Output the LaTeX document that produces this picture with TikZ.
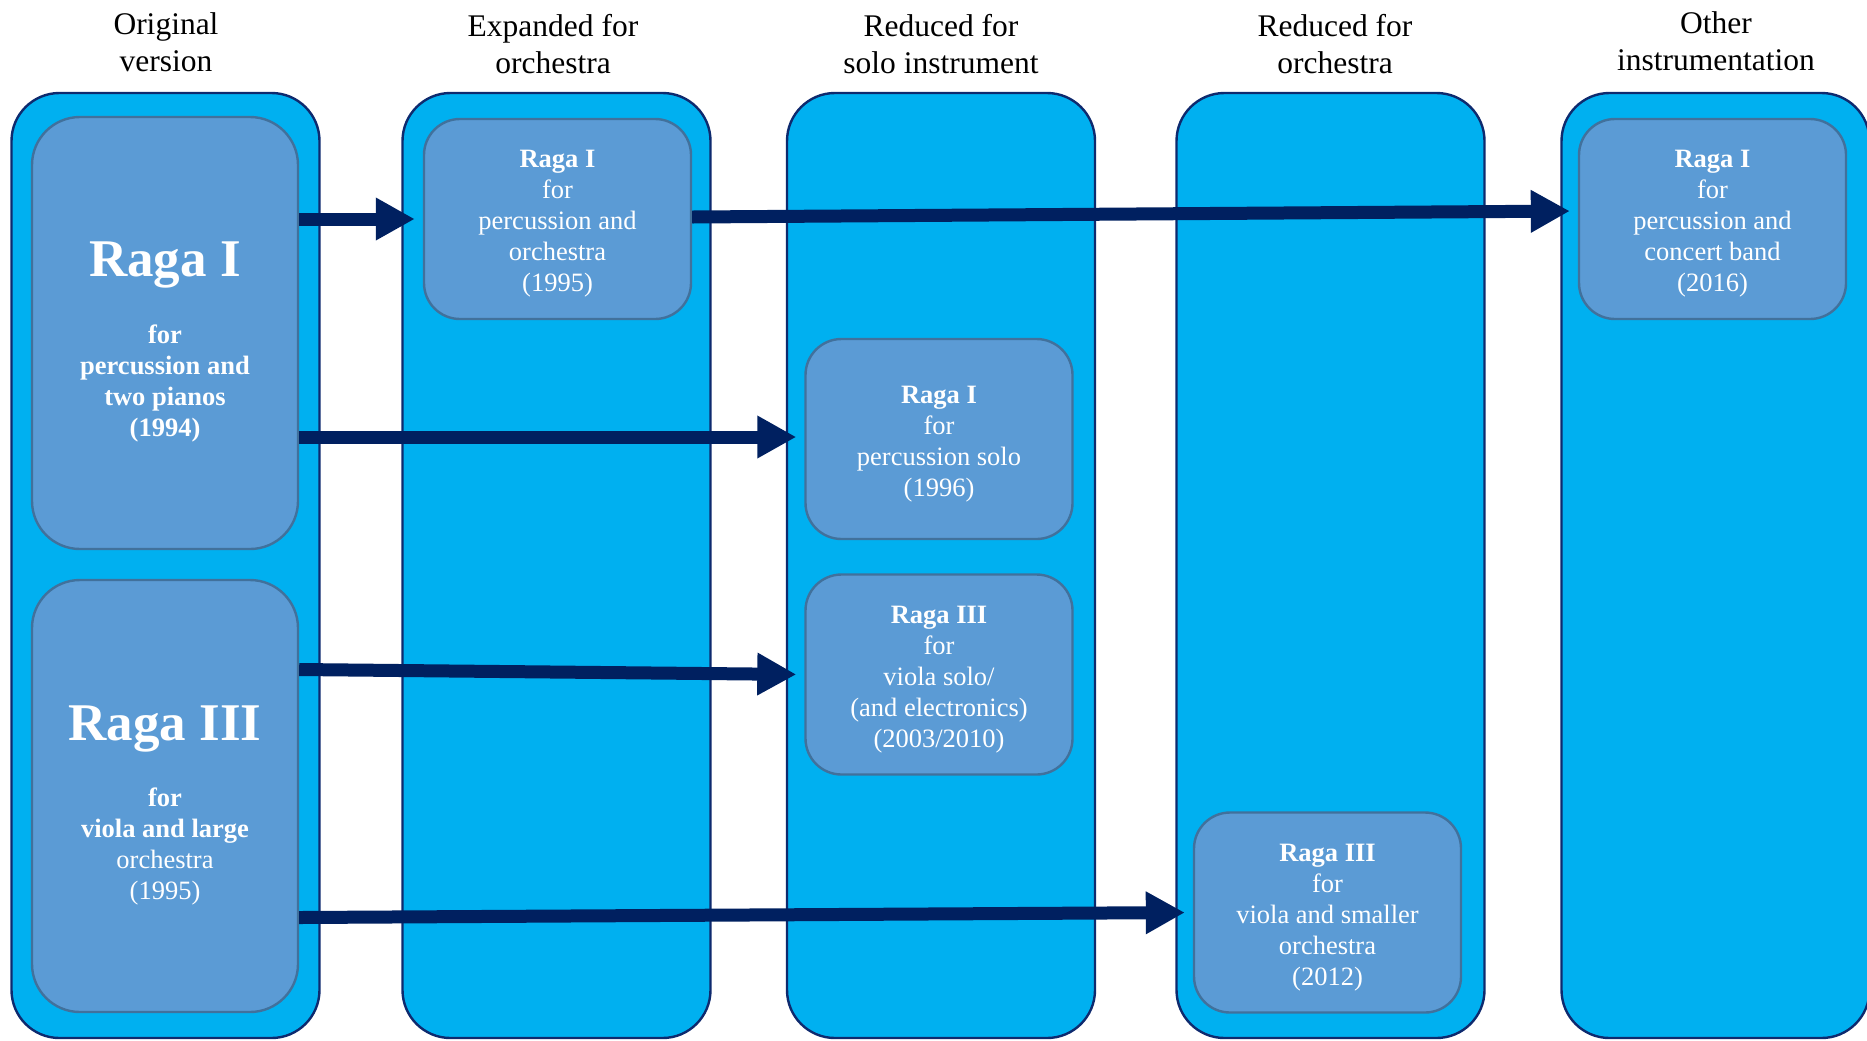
\documentclass[tikz,border=0pt]{standalone}
\usepackage{fontspec}
\setmainfont{Liberation Serif}
\usetikzlibrary{arrows.meta}
\definecolor{lanefill}{HTML}{00B0F0}
\definecolor{laneline}{HTML}{0E2A6E}
\definecolor{workfill}{HTML}{5B9BD5}
\definecolor{workline}{HTML}{41719C}
\definecolor{flowcol}{HTML}{002060}

\begin{document}
\begin{tikzpicture}[x=0.5pt,y=-0.5pt,
  lanebox/.style={draw=laneline, line width=1.2pt, fill=lanefill, rounded corners=24pt,
    minimum width=154pt, minimum height=472.5pt, inner sep=0pt},
  origbox/.style={draw=workline, line width=1.2pt, fill=workfill, rounded corners=24pt,
    minimum width=133pt, minimum height=216pt, inner sep=0pt},
  workbox/.style={draw=workline, line width=1.2pt, fill=workfill, rounded corners=18pt,
    minimum width=133.5pt, minimum height=100pt, inner sep=0pt},
  worktext/.style={text=white, align=center, inner sep=0pt,
    font=\fontsize{13.25pt}{15.5pt}\selectfont},
  colhead/.style={align=center, inner sep=0pt, font=\fontsize{15.75pt}{18.5pt}\selectfont},
  bigtitle/.style={text=white, anchor=base, inner sep=0pt,
    font=\fontsize{26.5pt}{30pt}\selectfont\bfseries},
  origtext/.style={text=white, align=center, inner sep=0pt,
    font=\fontsize{13.25pt}{15.5pt}\selectfont},
  flowarrow/.style={draw=flowcol, line width=6.5pt,
    -{Triangle[length=19.5pt,width=20pt]}, shorten >=4pt}
]
\useasboundingbox (0,0) rectangle (1867,1040);
\clip (0,0) rectangle (1867,1040);

% column headers
\node[colhead] (h1) at (166,42)   {Original\\version};
\node[colhead] (h2) at (553,44.5) {Expanded for\\orchestra};
\node[colhead] (h3) at (941,44.5) {Reduced for\\solo instrument};
\node[colhead] (h4) at (1335,44.5) {Reduced for\\orchestra};
\node[colhead] (h5) at (1716,41.5) {Other\\instrumentation};

% lanes
\node[lanebox] (c1) at (165.5,565.5) {};
\node[lanebox] (c2) at (556.5,565.5) {};
\node[lanebox] (c3) at (941,565.5) {};
\node[lanebox] (c4) at (1330.5,565.5) {};
\node[lanebox] (c5) at (1715.5,565.5) {};

% original versions
\node[origbox] (r1) at (165,333) {};
\node[bigtitle] (r1t) at (165,276) {Raga I};
\node[origtext] (r1d) at (165,383) {\bfseries for\\\bfseries percussion and\\\bfseries two pianos\\\bfseries (1994)};

\node[origbox] (r3) at (165,796) {};
\node[bigtitle] (r3t) at (165,740) {Raga III};
\node[origtext] (r3d) at (165,846.5) {\textbf{for}\\\textbf{viola and large}\\orchestra\\(1995)};

% derived versions
\node[workbox] (p1) at (557.5,219) {};
\node[workbox] (s1) at (939,439) {};
\node[workbox] (s2) at (939,674.5) {};
\node[workbox] (o1) at (1327.5,912.5) {};
\node[workbox] (b1) at (1712.5,219) {};

\node[worktext] (p1x) at ([yshift=-2.5pt]p1.center) {\textbf{Raga I}\\for\\percussion and\\orchestra\\(1995)};
\node[worktext] (s1x) at ([yshift=-2.5pt]s1.center) {\textbf{Raga I}\\for\\percussion solo\\(1996)};
\node[worktext] (s2x) at ([yshift=-2.5pt]s2.center) {\textbf{Raga III}\\for\\viola solo/\\(and electronics)\\(2003/2010)};
\node[worktext] (o1x) at ([yshift=-2.5pt]o1.center) {\textbf{Raga III}\\for\\viola and smaller\\orchestra\\(2012)};
\node[worktext] (b1x) at ([yshift=-2.5pt]b1.center) {\textbf{Raga I}\\for\\percussion and\\concert band\\(2016)};

% derivations
\draw[flowarrow] (r1.east |- p1.west) -- (p1.west);
\draw[flowarrow] ([yshift=1pt]p1.east) -- ([yshift=4pt]b1.west);
\draw[flowarrow] ([yshift=1pt]r1.east |- s1.west) -- ([yshift=1pt]s1.west);
\draw[flowarrow] ([yshift=2.5pt]r3.east |- s2.west) -- (s2.west);
\draw[flowarrow] ([yshift=-2.5pt]r3.east |- o1.west) -- (o1.west);
\end{tikzpicture}
\end{document}
